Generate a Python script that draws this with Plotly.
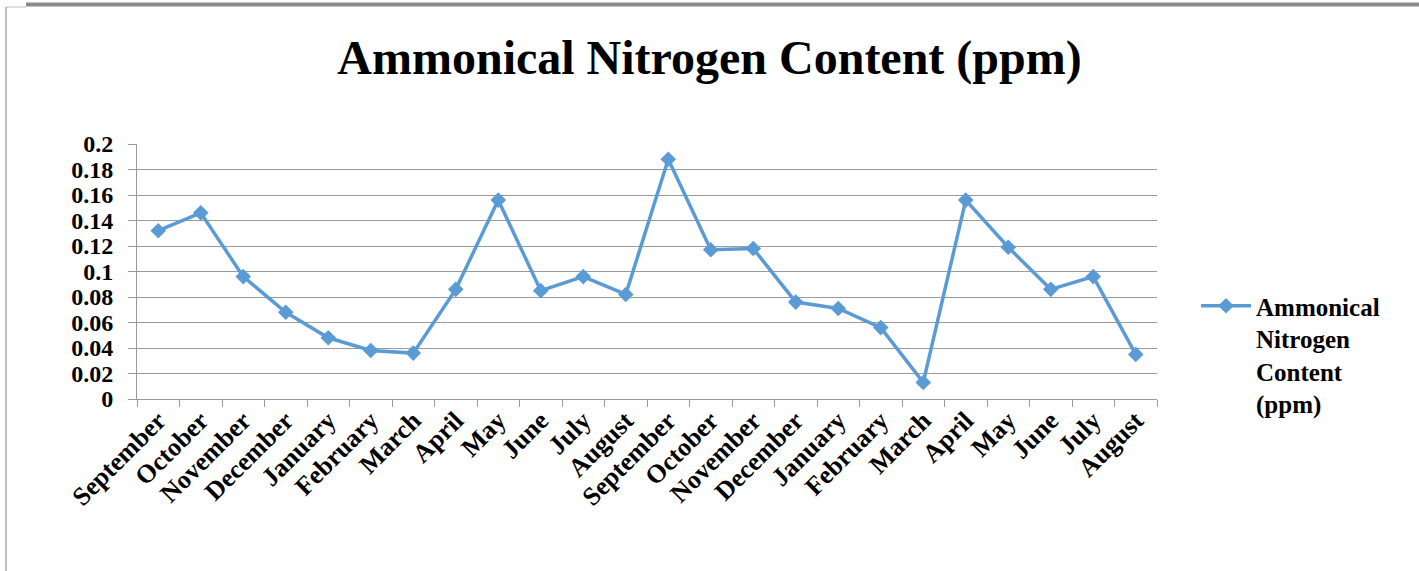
import plotly.graph_objects as go

# monthly readings, two seasons
months = ["September", "October", "November", "December", "January", "February",
          "March", "April", "May", "June", "July", "August",
          "September", "October", "November", "December", "January", "February",
          "March", "April", "May", "June", "July", "August"]
nitrogen = [0.132, 0.146, 0.096, 0.068, 0.048, 0.038, 0.036, 0.086, 0.156, 0.085, 0.096, 0.082,
            0.188, 0.117, 0.118, 0.076, 0.071, 0.056, 0.013, 0.156, 0.119, 0.086, 0.096, 0.035]
y_ticks = [0, 0.02, 0.04, 0.06, 0.08, 0.1, 0.12, 0.14, 0.16, 0.18, 0.2]
y_labels = ["0", "0.02", "0.04", "0.06", "0.08", "0.1", "0.12", "0.14", "0.16", "0.18", "0.2"]

W, H = 1419, 571
L, R, T, B = 137, 1157, 144, 399  # plot area in px
grid = "#9a9a9a"
font = "Liberation Serif, Times New Roman, serif"


def px_x(p):
    return (p - L) / (R - L)


def px_y(p):
    return (B - p) / (B - T)


idx = list(range(len(months)))
bounds = [i - 0.5 for i in range(len(months) + 1)]


def bold(size):
    return dict(size=size, family=font, color="black", weight="bold")


fig = go.Figure()
fig.add_trace(go.Scatter(
    x=idx, y=nitrogen, mode="lines+markers",
    name="Ammonical<br>Nitrogen<br>Content<br>(ppm)",
    line=dict(color="#5B9BD5", width=3.5),
    marker=dict(symbol="diamond", size=12, color="#5B9BD5"),
))

fig.update_layout(
    width=W, height=H, autosize=False,
    margin=dict(l=L, r=W - R, t=T, b=H - B),
    paper_bgcolor="white", plot_bgcolor="white",
    font=dict(family=font, color="black"),
    title=dict(text="<b>Ammonical Nitrogen Content (ppm)</b>", x=0.5, xanchor="center",
               y=1 - 57 / H, yanchor="middle", yref="container",
               font=dict(size=48, family=font, color="black")),
    showlegend=True,
    legend=dict(x=px_x(1196), xanchor="left", y=px_y(283), yanchor="top",
                valign="top", font=bold(25),
                bgcolor="rgba(0,0,0,0)", itemwidth=50),
    shapes=[
        dict(type="line", xref="paper", yref="paper", x0=px_x(6), x1=px_x(6),
             y0=px_y(7), y1=px_y(H), line=dict(color="#a8a8a8", width=1.5)),
        dict(type="line", xref="paper", yref="paper", x0=px_x(6), x1=px_x(26),
             y0=px_y(7), y1=px_y(7), line=dict(color="#bdbdbd", width=1)),
        dict(type="line", xref="paper", yref="paper", x0=px_x(26), x1=px_x(W),
             y0=px_y(4.5), y1=px_y(4.5), line=dict(color="#8a8a8a", width=4)),
    ],
)

fig.update_xaxes(
    range=[-0.5, len(months) - 0.5], tickmode="array", tickvals=idx, ticktext=months,
    tickangle=-45, ticks="", showgrid=False, zeroline=False, ticklabelstandoff=-5,
    showline=True, linecolor=grid, linewidth=1, tickfont=bold(26),
    minor=dict(tickmode="array", tickvals=bounds, ticks="outside", ticklen=7,
               tickcolor=grid, tickwidth=1, showgrid=False),
)
fig.update_yaxes(
    range=[0, 0.2], tickmode="array", tickvals=y_ticks, ticktext=y_labels,
    ticks="outside", ticklen=8, tickcolor=grid, tickwidth=1, ticklabelstandoff=10,
    showgrid=True, gridcolor=grid, gridwidth=1, zeroline=False,
    showline=True, linecolor=grid, linewidth=1, tickfont=bold(24),
)

fig.write_html("out.html", config={"displayModeBar": False},
               post_script="document.body.style.margin='0';")
